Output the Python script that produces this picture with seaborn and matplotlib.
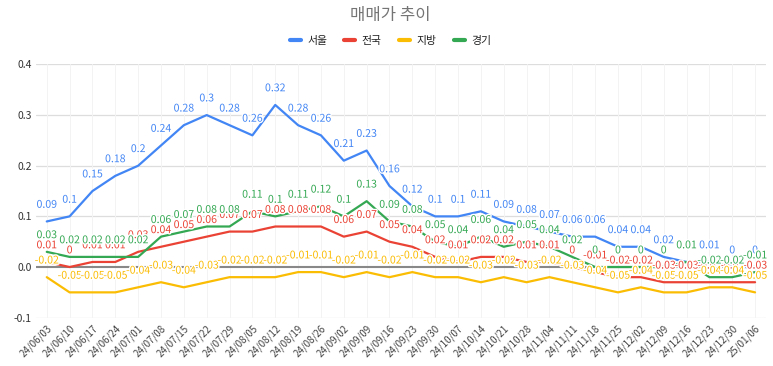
import pandas as pd
import seaborn as sns
import numpy as np
import matplotlib.pyplot as plt
import matplotlib.patheffects as pe
from matplotlib.lines import Line2D

dates = ['24/06/03', '24/06/10', '24/06/17', '24/06/24', '24/07/01', '24/07/08', '24/07/15', '24/07/22',
         '24/07/29', '24/08/05', '24/08/12', '24/08/19', '24/08/26', '24/09/02', '24/09/09', '24/09/16',
         '24/09/23', '24/09/30', '24/10/07', '24/10/14', '24/10/21', '24/10/28', '24/11/04', '24/11/11',
         '24/11/18', '24/11/25', '24/12/02', '24/12/09', '24/12/16', '24/12/23', '24/12/30', '25/01/06']

seoul = [0.09, 0.1, 0.15, 0.18, 0.2, 0.24, 0.28, 0.3, 0.28, 0.26, 0.32, 0.28, 0.26, 0.21, 0.23, 0.16,
         0.12, 0.1, 0.1, 0.11, 0.09, 0.08, 0.07, 0.06, 0.06, 0.04, 0.04, 0.02, 0.01, 0.01, 0, 0]
national = [0.01, 0, 0.01, 0.01, 0.03, 0.04, 0.05, 0.06, 0.07, 0.07, 0.08, 0.08, 0.08, 0.06, 0.07, 0.05,
            0.04, 0.02, 0.01, 0.02, 0.02, 0.01, 0.01, 0, -0.01, -0.02, -0.02, -0.03, -0.03, -0.03, -0.03, -0.03]
regional = [-0.02, -0.05, -0.05, -0.05, -0.04, -0.03, -0.04, -0.03, -0.02, -0.02, -0.02, -0.01, -0.01, -0.02,
            -0.01, -0.02, -0.01, -0.02, -0.02, -0.03, -0.02, -0.03, -0.02, -0.03, -0.04, -0.05, -0.04, -0.05,
            -0.05, -0.04, -0.04, -0.05]
gyeonggi = [0.03, 0.02, 0.02, 0.02, 0.02, 0.06, 0.07, 0.08, 0.08, 0.11, 0.1, 0.11, 0.12, 0.1, 0.13, 0.09,
            0.08, 0.05, 0.04, 0.06, 0.04, 0.05, 0.04, 0.02, 0, 0, 0, 0, 0.01, -0.02, -0.02, -0.01]

series_names = ['서울', '전국', '지방', '경기']
colors = ['#4285F4', '#EA4335', '#FBBC04', '#34A853']

sns.set_style('white')
plt.rcParams['font.family'] = ['Noto Sans CJK KR', 'DejaVu Sans']

df = pd.DataFrame({'idx': np.arange(len(dates)), '서울': seoul, '전국': national, '지방': regional, '경기': gyeonggi})
long = df.melt(id_vars='idx', var_name='지역', value_name='값')

fig = plt.figure(figsize=(7.73, 3.66), dpi=100)
ax = fig.add_axes([0.0466, 0.132, 0.9444, 0.692])

sns.lineplot(data=long, x='idx', y='값', hue='지역', hue_order=series_names,
             palette=colors, linewidth=1.6, ax=ax, legend=False, sort=False)

# data labels above each point
for name, col in zip(series_names, colors):
    for i, v in enumerate(df[name]):
        txt = ('%g' % v) if v != 0 else '0'
        ax.annotate(txt, (i, v), xytext=(0, 12), textcoords='offset points',
                    ha='center', va='center', fontsize=7.6, color=col,
                    path_effects=[pe.withStroke(linewidth=2, foreground='white')])

ax.set_xlim(-0.47, len(dates) - 0.52)
ax.set_ylim(-0.1, 0.4)
ax.set_yticks([-0.1, 0.0, 0.1, 0.2, 0.3, 0.4])
ax.set_yticklabels(['-0.1', '0.0', '0.1', '0.2', '0.3', '0.4'], fontsize=7.5, color='#333333',
                   fontweight='medium')
ax.set_xticks(np.arange(len(dates)))
ax.set_xticklabels(dates, rotation=45, ha='right', rotation_mode='anchor', fontsize=7, color='#444444')
ax.tick_params(axis='both', length=0)
ax.tick_params(axis='x', pad=4)
ax.tick_params(axis='y', pad=3)
ax.set_xlabel('')
ax.set_ylabel('')

for s in ax.spines.values():
    s.set_visible(False)

for y in [-0.1, 0.1, 0.2, 0.3, 0.4]:
    ax.axhline(y, color='#dddddd', linewidth=0.9, zorder=0)
ax.axhline(0, color='#888888', linewidth=1.5, zorder=0.5)
for i in range(len(dates)):
    ax.axvline(i, color='#f3f3f3', linewidth=0.7, zorder=0)

fig.text(0.505, 0.958, '매매가 추이', ha='center', va='center', fontsize=12, color='#757575')

handles = [Line2D([0], [0], color=c, linewidth=3) for c in colors]
fig.legend(handles, series_names, loc='center', bbox_to_anchor=(0.505, 0.888), ncol=4, frameon=False,
           fontsize=7.8, handlelength=1.0, handletextpad=0.6, columnspacing=1.6,
           labelcolor='#222222')

fig.savefig('out.png', dpi=100)
